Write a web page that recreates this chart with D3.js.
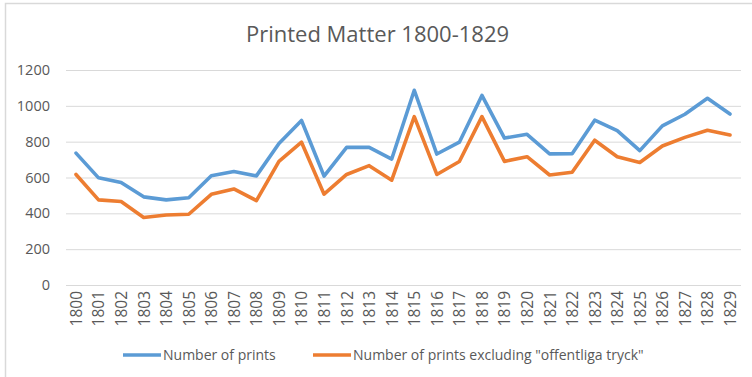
<!DOCTYPE html>
<html>
<head>
<meta charset="utf-8">
<script src="https://cdn.jsdelivr.net/npm/d3@7"></script>
<style>
  html, body { margin: 0; padding: 0; background: #fff; }
  svg { display: block; font-family: "Open Sans", "Noto Sans", sans-serif; }
</style>
</head>
<body>
<svg id="chart" width="752" height="377"></svg>
<script>
// Years on the x axis
const years = d3.range(1800, 1830).map(String);

// Total number of prints per year
const prints = [736, 598, 572, 492, 475, 487, 610, 633, 609, 790,
                918, 608, 768, 768, 703, 1087, 731, 797, 1058, 820,
                841, 732, 733, 920, 862, 750, 888, 953, 1042, 954];

// Prints excluding "offentliga tryck"
const printsExcl = [617, 475, 466, 377, 391, 395, 506, 536, 471, 690,
                    797, 507, 617, 666, 585, 940, 617, 689, 940, 690,
                    716, 614, 629, 808, 716, 684, 776, 824, 864, 837];

const yTicks = [0, 200, 400, 600, 800, 1000, 1200];

const seriesNames = ["Number of prints", "Number of prints excluding \"offentliga tryck\""];
const seriesColors = ["#5B9BD5", "#ED7D31"];

const svg = d3.select("#chart");
const W = 752, H = 377;
const textColor = "#595959";
const font = "\"Open Sans\", \"Noto Sans\", sans-serif";

// chart frame
svg.append("rect")
  .attr("x", 5.5).attr("y", 3.5)
  .attr("width", W + 10).attr("height", H + 10)
  .attr("fill", "#fff").attr("stroke", "#d9d9d9").attr("stroke-width", 1.5);

const plot = { left: 66, right: 741, top: 70, bottom: 285 };

const x = d3.scalePoint()
  .domain(years)
  .range([76, 730]);

const y = d3.scaleLinear()
  .domain([0, 1200])
  .range([plot.bottom, plot.top]);

// title
svg.append("text")
  .attr("x", 377.5).attr("y", 42)
  .attr("text-anchor", "middle")
  .attr("fill", textColor)
  .attr("font-size", 22)
  .text("Printed Matter 1800-1829");

// horizontal gridlines and y labels
const yAxis = d3.axisLeft(y)
  .tickValues(yTicks)
  .tickSize(-(plot.right - plot.left))
  .tickPadding(16)
  .tickFormat(d3.format("d"));

const gy = svg.append("g")
  .attr("transform", `translate(${plot.left},0)`)
  .call(yAxis);
gy.select(".domain").remove();
gy.selectAll(".tick line").attr("stroke", "#d9d9d9").attr("stroke-width", 1);
gy.selectAll(".tick text")
  .attr("fill", textColor)
  .attr("font-size", 14.5)
  .attr("font-family", font);

// x axis with rotated year labels
const xAxis = d3.axisBottom(x).tickSize(0).tickPadding(0);
const gx = svg.append("g")
  .attr("transform", `translate(0,${plot.bottom})`)
  .call(xAxis);
gx.select(".domain").remove();
gx.selectAll(".tick text")
  .attr("fill", textColor)
  .attr("font-size", 15.5)
  .attr("font-family", font)
  .attr("text-anchor", "end")
  .attr("dy", "0.35em")
  .attr("transform", "translate(0,6) rotate(-90)")
  .attr("x", 0).attr("y", 0);

// lines
const line = d3.line()
  .x((d, i) => x(years[i]))
  .y(d => y(d));

[prints, printsExcl].forEach((vals, k) => {
  svg.append("path")
    .datum(vals)
    .attr("fill", "none")
    .attr("stroke", seriesColors[k])
    .attr("stroke-width", 3.6)
    .attr("stroke-linejoin", "round")
    .attr("stroke-linecap", "round")
    .attr("d", line);
});

// legend
const legendX = [123, 313];
seriesNames.forEach((name, k) => {
  const g = svg.append("g").attr("transform", `translate(${legendX[k]},355)`);
  g.append("line")
    .attr("x1", 0).attr("x2", 38)
    .attr("y1", 0).attr("y2", 0)
    .attr("stroke", seriesColors[k]).attr("stroke-width", 3.6);
  g.append("text")
    .attr("x", 40).attr("y", 0)
    .attr("dy", "0.35em")
    .attr("fill", textColor)
    .attr("font-size", 14)
    .text(name);
});
</script>
</body>
</html>
